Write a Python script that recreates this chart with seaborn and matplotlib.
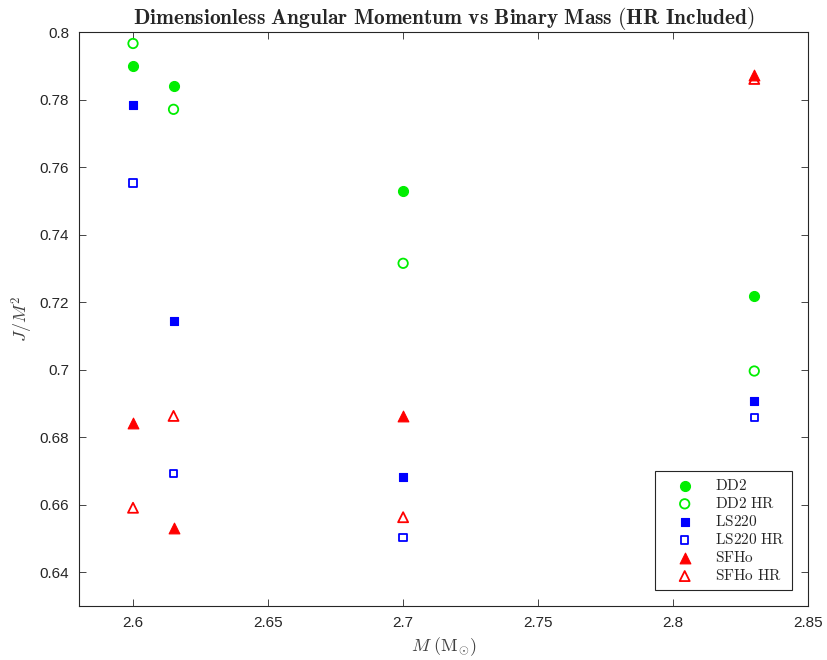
import matplotlib
matplotlib.use("Agg")
import matplotlib.pyplot as plt
import seaborn as sns
import pandas as pd
from matplotlib.ticker import FuncFormatter, MultipleLocator

# Binary masses (solar masses)
mass = [2.6, 2.615, 2.7, 2.83]

# Dimensionless angular momentum J/M^2 per equation of state
dd2 = [0.790, 0.784, 0.7529, 0.7217]
dd2_hr = [0.7966, 0.7771, 0.7315, 0.6996]
ls220 = [0.7783, 0.7144, 0.6681, 0.6907]
ls220_hr = [0.7553, 0.6692, 0.6502, 0.6859]
sfho = [0.6841, 0.6531, 0.6863, 0.7872]
sfho_hr = [0.6591, 0.6863, 0.6563, 0.7861]

series_names = ["DD2", "DD2 HR", "LS220", "LS220 HR", "SFHo", "SFHo HR"]
series_values = [dd2, dd2_hr, ls220, ls220_hr, sfho, sfho_hr]

sns.set_theme(style="white")
plt.rcParams["mathtext.fontset"] = "cm"
plt.rcParams["font.family"] = ["Liberation Sans", "DejaVu Sans"]

fig = plt.figure(figsize=(8.28, 6.6), dpi=100)
ax = fig.add_axes([0.0954, 0.0818, 0.8808, 0.8697])

styles = {
    "DD2": dict(marker="o", color="#00ee00", filled=True, s=52),
    "DD2 HR": dict(marker="o", color="#00ee00", filled=False, s=46),
    "LS220": dict(marker="s", color="#0000ff", filled=True, s=28),
    "LS220 HR": dict(marker="s", color="#0000ff", filled=False, s=28),
    "SFHo": dict(marker="^", color="#ff0000", filled=True, s=60),
    "SFHo HR": dict(marker="^", color="#ff0000", filled=False, s=52),
}

for name, vals in zip(series_names, series_values):
    df = pd.DataFrame({"M": mass, "J": vals})
    st = styles[name]
    label = r"$\mathrm{" + name.replace(" ", r"\ ") + "}$"
    if st["filled"]:
        sns.scatterplot(data=df, x="M", y="J", ax=ax, marker=st["marker"],
                        color=st["color"], edgecolor=st["color"], linewidth=0.8,
                        s=st["s"], label=label, zorder=3)
    else:
        sns.scatterplot(data=df, x="M", y="J", ax=ax, marker=st["marker"],
                        facecolor="none", edgecolor=st["color"], linewidth=1.3,
                        s=st["s"], label=label, zorder=3)

ax.set_xlim(2.58, 2.85)
ax.set_ylim(0.63, 0.80)
ax.xaxis.set_major_locator(MultipleLocator(0.05))
ax.yaxis.set_major_locator(MultipleLocator(0.02))
fmt = FuncFormatter(lambda v, p: f"{round(v, 4):g}")
ax.xaxis.set_major_formatter(fmt)
ax.yaxis.set_major_formatter(fmt)

for sp in ax.spines.values():
    sp.set_color("#262626")
    sp.set_linewidth(0.8)
ax.tick_params(axis="both", which="major", direction="in", length=5, width=0.6,
               color="#262626", labelcolor="#262626", labelsize=11,
               top=True, right=True, bottom=True, left=True, pad=7)
ax.grid(False)

ax.set_title(r"$\mathbf{Dimensionless\ Angular\ Momentum\ vs\ Binary\ Mass\ (HR\ Included)}$",
             fontsize=15.4, pad=6)
ax.set_xlabel(r"$M\ (\mathrm{M}_{\odot})$", fontsize=13, color="#404040", labelpad=4)
ax.set_ylabel(r"$J/M^2$", fontsize=13, color="#404040", labelpad=3)

leg = ax.legend(loc="lower right", bbox_to_anchor=(0.978, 0.028), frameon=True,
                fancybox=False, edgecolor="#262626", framealpha=1,
                prop={"size": 11}, handletextpad=0.5,
                borderpad=0.45, labelspacing=0.2, handlelength=3.0,
                borderaxespad=0)
leg.get_frame().set_linewidth(0.8)

fig.savefig("out.png", dpi=100)
